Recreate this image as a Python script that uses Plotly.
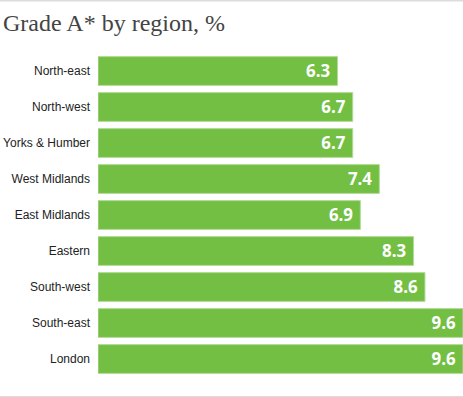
import plotly.graph_objects as go

regions = ["North-east", "North-west", "Yorks & Humber", "West Midlands", "East Midlands",
           "Eastern", "South-west", "South-east", "London"]
values = [6.3, 6.7, 6.7, 7.4, 6.9, 8.3, 8.6, 9.6, 9.6]
title_text = "Grade A* by region, %"

W, H = 463, 397
L, R, T, B = 98, 0, 53, 20
pw, ph = W - L - R, H - T - B

fig = go.Figure(go.Bar(
    x=values, y=regions, orientation="h",
    marker=dict(color="#72bf44", line=dict(color="#b3dc98", width=1)),
    width=0.8,
    text=[f"{v:.1f}\u00a0" for v in values],
    textposition="inside", insidetextanchor="end",
    textfont=dict(family="Open Sans", size=17, color="white", weight="bold"),
    hoverinfo="skip",
))

fig.update_layout(
    width=W, height=H,
    margin=dict(l=L, r=R, t=T, b=B, autoexpand=False),
    paper_bgcolor="white", plot_bgcolor="white",
    showlegend=False,
    xaxis=dict(range=[0, 9.6], visible=False, fixedrange=True),
    yaxis=dict(autorange="reversed", showgrid=False, zeroline=False, showline=False,
               ticks="", ticklabelstandoff=7, automargin=False,
               tickfont=dict(family="Liberation Sans", size=12, color="#222")),
    annotations=[dict(text=title_text, x=-(L - 1) / pw, y=(H - B - 23) / ph,
                      xref="paper", yref="paper",
                      xanchor="left", yanchor="middle", showarrow=False,
                      font=dict(family="Liberation Serif", size=24, color="#444"))],
    shapes=[
        dict(type="line", xref="paper", yref="paper", x0=-L / pw, x1=1,
             y0=(H - B - 0.5) / ph, y1=(H - B - 0.5) / ph,
             line=dict(color="#dcdcdc", width=2)),
        dict(type="line", xref="paper", yref="paper", x0=-L / pw, x1=1,
             y0=-(B - 0.5) / ph, y1=-(B - 0.5) / ph,
             line=dict(color="#dcdcdc", width=1)),
    ],
)
fig.write_html("out.html", config={"displayModeBar": False},
               post_script="document.body.style.margin='0';document.body.style.overflow='hidden';")
